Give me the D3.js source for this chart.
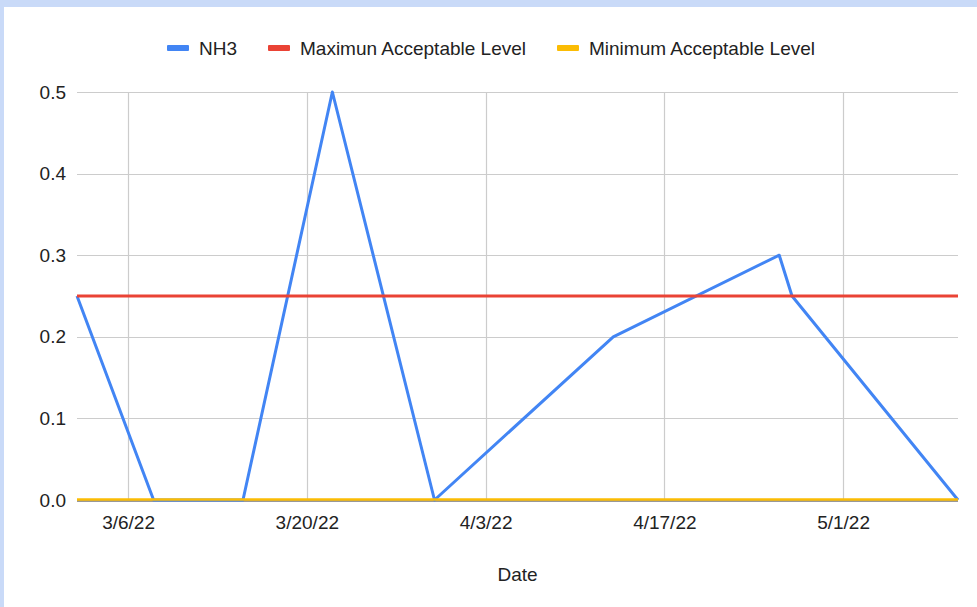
<!DOCTYPE html>
<html><head><meta charset="utf-8">
<script src="https://cdn.jsdelivr.net/npm/d3@7"></script>
<style>
html,body{margin:0;padding:0;background:#c9daf8;}
svg{display:block;}
text{font-family:"Liberation Sans",Arial,sans-serif;fill:#222;}
</style></head>
<body>
<script>
const dates = ["2022-03-02","2022-03-08","2022-03-15","2022-03-22","2022-03-30","2022-04-13","2022-04-26","2022-04-27","2022-05-10"];
const nh3 = [0.25,0,0,0.5,0,0.2,0.3,0.25,0];
const maxLevel = [0.25,0.25,0.25,0.25,0.25,0.25,0.25,0.25,0.25];
const minLevel = [0,0,0,0,0,0,0,0,0];
const seriesNames = ["NH3","Maximun Acceptable Level","Minimum Acceptable Level"];
const seriesColors = ["#4285f4","#ea4335","#fbbc04"];
const xTickDates = ["2022-03-06","2022-03-20","2022-04-03","2022-04-17","2022-05-01"];
const yTicks = [0,0.1,0.2,0.3,0.4,0.5];
const xTitle = "Date";

const W=977,H=607;
const parse = d3.timeParse("%Y-%m-%d");
const fmt = d3.timeFormat("%-m/%-d/%y");
const svg = d3.select("body").append("svg").attr("width",W).attr("height",H);
svg.append("rect").attr("x",4).attr("y",7).attr("width",W-4).attr("height",H-7).attr("fill","#fff");

const x = d3.scaleTime().domain([parse(dates[0]),parse(dates[dates.length-1])]).range([77,958]);
const y = d3.scaleLinear().domain([0,0.5]).range([500,92]);

// gridlines
const g = svg.append("g");
g.selectAll("line.h").data(yTicks.slice(1)).join("line")
 .attr("x1",77).attr("x2",958).attr("y1",d=>Math.round(y(d))+0.5).attr("y2",d=>Math.round(y(d))+0.5)
 .attr("stroke","#cccccc").attr("stroke-width",1.2);
g.selectAll("line.v").data(xTickDates).join("line")
 .attr("x1",d=>Math.round(x(parse(d)))+0.5).attr("x2",d=>Math.round(x(parse(d)))+0.5)
 .attr("y1",92).attr("y2",500).attr("stroke","#cccccc").attr("stroke-width",1.2);

// axes labels
const yAxis = d3.axisLeft(y).tickValues(yTicks).tickFormat(d3.format(".1f")).tickSize(0).tickPadding(10);
const ya = svg.append("g").attr("transform","translate(76,0)").call(yAxis);
ya.select(".domain").remove();
ya.selectAll("text").style("font-size","19px").attr("fill","#222").attr("font-family","Liberation Sans, Arial, sans-serif");

const xAxis = d3.axisBottom(x).tickValues(xTickDates.map(parse)).tickFormat(fmt).tickSize(0).tickPadding(16);
const xa = svg.append("g").attr("transform","translate(0,500)").call(xAxis);
xa.select(".domain").remove();
xa.selectAll("text").style("font-size","19px").attr("fill","#222").attr("font-family","Liberation Sans, Arial, sans-serif");

// baseline
svg.append("line").attr("x1",77).attr("x2",958).attr("y1",501).attr("y2",501).attr("stroke","#333").attr("stroke-width",1);

const line = d3.line().x((d,i)=>x(parse(dates[i]))).y(d=>y(d));
const all = [nh3,maxLevel,minLevel];
all.forEach((s,i)=>{
  svg.append("path").datum(s).attr("d",line).attr("fill","none")
   .attr("stroke",seriesColors[i]).attr("stroke-width",i===2?2.5:3).attr("stroke-linejoin","round")
   .attr("transform",i===2?"translate(0,-0.5)":null);
});

// x title
svg.append("text").attr("x",(77+958)/2).attr("y",581).attr("text-anchor","middle").style("font-size","19px").text(xTitle);

// legend
const legX = [167,268,557];
const lg = svg.append("g");
seriesNames.forEach((n,i)=>{
  lg.append("rect").attr("x",legX[i]).attr("y",45).attr("width",22).attr("height",6).attr("rx",1).attr("fill",seriesColors[i]);
  lg.append("text").attr("x",legX[i]+32).attr("y",55).style("font-size","19px").text(n);
});
</script>
</body></html>
